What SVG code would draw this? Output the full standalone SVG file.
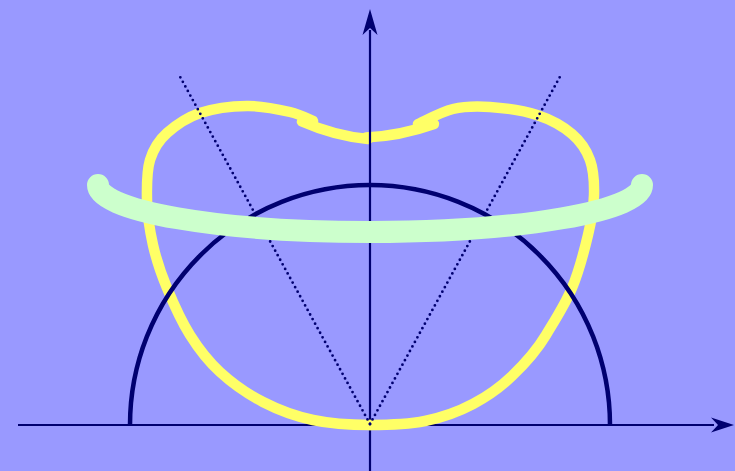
<svg xmlns="http://www.w3.org/2000/svg" width="735" height="471" viewBox="0 0 735 471">
<style>
.axis{stroke:#000070;stroke-width:2.2;fill:none}
.arrow{fill:#000070;stroke:none}
.yellow{stroke:#ffff66;stroke-width:10.5;fill:none;stroke-linecap:round;stroke-linejoin:round}
.dots{stroke:#000070;stroke-width:2.8;fill:none;stroke-linecap:round;stroke-dasharray:0 5.2}
.semi{stroke:#000070;stroke-width:4.5;fill:none}
.green{stroke:#ccffcc;stroke-width:22;fill:none;stroke-linecap:round}
</style>
<rect x="0" y="0" width="735" height="471" fill="#9999ff"/>
<g id="axes-under">
<line class="axis" x1="18" y1="425" x2="714" y2="425"/>
<line class="axis" x1="370" y1="471" x2="370" y2="300"/>
</g>
<g id="curve-yellow">
<path class="yellow" d="M370,425 C351,425 330.8,423.8 313,420 C295.2,416.2 278.5,410 263,402 C247.5,394 232.2,383.2 220,372 C207.8,360.8 198.8,349 190,335 C181.2,321 173.2,303 167,288 C160.8,273 156.3,259.7 153,245 C149.7,230.3 147.3,214.5 147,200 C146.7,185.5 146.5,171.5 150,160 C153.5,148.5 158,141 167,133 C176,125 187,117.5 200,113 C213.7,108.5 232,106.2 247,106 C262,105.8 279,109.5 290,112 C301,114.5 309.2,119.5 313,121"/>
<path class="yellow" d="M370,425 C388.3,425 407.7,424.5 425,421 C442.3,417.5 458.5,411.7 473,404 C487.5,396.3 500.5,387 512,376 C523.5,365 537,350 546,335 C555,320 565,304.7 572,288 C579,271.3 584.3,250.5 588,235 C591.7,219.5 593.7,207.5 594,195 C594.3,182.5 593.7,170.2 590,160 C586.3,149.8 580.8,141.5 572,134 C563.2,126.5 550.7,119.5 537,115 C523.3,110.5 504,108 490,107 C476,106 465,106.2 453,109 C441,111.8 423.8,121.5 418,124"/>
<path class="yellow" d="M302,121.5 Q335,136 368,139"/>
<path class="yellow" d="M366,137.5 Q400,136 434,124"/>
</g>
<g id="axes-over">
<line class="axis" x1="370" y1="300" x2="370" y2="30"/>
<path class="arrow" d="M370,9 L377.5,35 L370,28 L362.5,35 Z"/>
<path class="arrow" d="M734,425 L711,417.5 L718,425 L711,432.5 Z"/>
</g>
<g id="semicircle">
<path class="semi" d="M130,425 A240,240 0 0 1 610,425"/>
</g>
<g id="rays">
<line class="dots" x1="370" y1="424" x2="178" y2="73"/>
<line class="dots" x1="370" y1="424" x2="562" y2="73"/>
</g>
<g id="curve-green">
<path class="green" d="M98,185 A272,47 0 0 0 642,185"/>
</g>
</svg>
